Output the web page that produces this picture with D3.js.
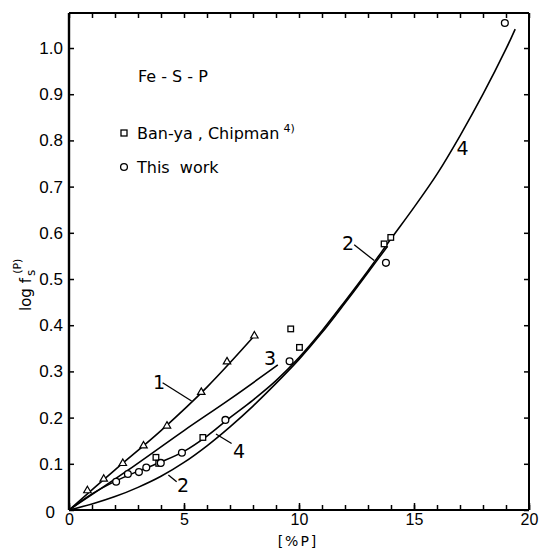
<!DOCTYPE html>
<html>
<head>
<meta charset="utf-8">
<script src="https://cdn.jsdelivr.net/npm/d3@7"></script>
<style>
  body { margin: 0; background: #fff; }
  svg { display: block; font-family: "DejaVu Sans", sans-serif; }
</style>
</head>
<body>
<div id="chart"></div>
<script>
// tick values
var xTicks = [0, 5, 10, 15, 20];
var yTicks = [0, 0.1, 0.2, 0.3, 0.4, 0.5, 0.6, 0.7, 0.8, 0.9, 1.0];

// measured points [%P, log f]
var triangles = [[0.8, 0.042], [1.51, 0.067], [2.34, 0.101], [3.24, 0.139], [4.26, 0.182],
  [5.75, 0.255], [6.87, 0.321], [8.06, 0.377]];
var banyaChipman = [[3.78, 0.114], [3.9, 0.101], [5.82, 0.157], [9.64, 0.392], [10.02, 0.352],
  [13.7, 0.576], [13.99, 0.59]];
var thisWork = [[2.05, 0.061], [2.56, 0.078], [3.04, 0.082], [3.36, 0.092], [3.99, 0.102],
  [4.91, 0.124], [6.8, 0.195], [9.59, 0.322], [13.78, 0.535], [18.95, 1.054]];

// drawn curves 1-4
var curve1 = [[0, 0], [2, 0.087], [4, 0.172], [6, 0.266], [8.06, 0.377]];
var curve2 = [[0, 0], [1, 0.013], [2, 0.029], [3, 0.049], [4, 0.073], [5, 0.103], [6, 0.139],
  [7, 0.18], [8, 0.225], [9, 0.274], [10, 0.326], [11, 0.384], [12, 0.448], [13, 0.514], [13.85, 0.571]];
var curve3 = [[0, 0], [2.5, 0.084], [5, 0.172], [7, 0.24], [9.08, 0.314]];
var curve4 = [[0, 0], [1, 0.035], [2, 0.062], [3, 0.084], [4, 0.104], [5, 0.127], [6, 0.16],
  [7, 0.2], [8, 0.238], [9, 0.28], [10, 0.33], [11, 0.388], [12, 0.452], [13, 0.518], [14, 0.587],
  [15, 0.655], [16, 0.727], [17, 0.81], [18, 0.9], [19, 0.998], [19.4, 1.041]];

// curve labels with leader lines (data units)
var curveLabels = [
  { text: "1", at: [3.91, 0.277], from: [4.07, 0.2755], to: [5.33, 0.236] },
  { text: "3", at: [8.74, 0.329] },
  { text: "4", at: [7.39, 0.128], from: [6.39, 0.1645], to: [7.07, 0.144] },
  { text: "2", at: [4.96, 0.054], from: [4.32, 0.0758], to: [4.68, 0.061] },
  { text: "2", at: [12.13, 0.578], from: [12.4, 0.574], to: [13.27, 0.54] },
  { text: "4", at: [17.11, 0.783] }
];

var width = 544, height = 550;

var x = d3.scaleLinear().domain([0, 20]).range([69, 529]);
var y = d3.scaleLinear().domain([0, 1.0758]).range([510, 13]);

var svg = d3.select("#chart")
  .append("svg")
  .attr("width", width)
  .attr("height", height);

// bottom axis: minor ticks every 1, labels every 5
svg.append("g")
  .attr("transform", "translate(0," + y(0) + ")")
  .call(d3.axisBottom(x).tickValues(d3.range(0, 21)).tickSize(-5).tickFormat(""))
  .call(function(g) { g.select(".domain").remove(); });

svg.append("g")
  .attr("class", "x axis")
  .attr("transform", "translate(0," + y(0) + ")")
  .call(d3.axisBottom(x).tickValues(xTicks).tickSize(-7).tickPadding(4).tickFormat(d3.format("d")))
  .call(function(g) {
    g.select(".domain").attr("d", "M" + x(0) + ",0H" + x(20)).attr("stroke-width", 2.2);
    g.selectAll("text").attr("font-size", 16).attr("fill", "#000");
  });

// top axis
svg.append("g")
  .attr("transform", "translate(0," + y.range()[1] + ")")
  .call(d3.axisTop(x).tickValues(d3.range(0, 21)).tickSize(-5).tickFormat(""))
  .call(function(g) {
    g.select(".domain").attr("d", "M" + x(0) + ",0H" + x(20)).attr("stroke-width", 2);
  });

// left axis
svg.append("g")
  .attr("class", "y axis")
  .attr("transform", "translate(" + x(0) + ",0)")
  .call(d3.axisLeft(y).tickValues(yTicks).tickSize(-5).tickPadding(6)
    .tickFormat(function(d) { return d === 0 ? "0" : d3.format(".1f")(d); }))
  .call(function(g) {
    g.select(".domain").attr("d", "M0," + y(0) + "V" + y.range()[1]).attr("stroke-width", 2.4);
    g.selectAll("text").attr("font-size", 17).attr("fill", "#000");
    g.selectAll(".tick").filter(function(d) { return d === 0; })
      .select("text").attr("dx", -8).attr("dy", "0.45em");
  });

// right axis
svg.append("g")
  .attr("transform", "translate(" + x(20) + ",0)")
  .call(d3.axisRight(y).tickValues(yTicks).tickSize(-5).tickFormat(""))
  .call(function(g) {
    g.select(".domain").attr("d", "M0," + y(0) + "V" + y.range()[1]).attr("stroke-width", 2);
  });

svg.selectAll(".tick line").attr("stroke", "#000").attr("stroke-width", 1.5);

// curves
var line = d3.line()
  .x(function(d) { return x(d[0]); })
  .y(function(d) { return y(d[1]); })
  .curve(d3.curveCatmullRom);

[curve1, curve2, curve3, curve4].forEach(function(c) {
  svg.append("path")
    .datum(c)
    .attr("d", line)
    .attr("fill", "none")
    .attr("stroke", "#000")
    .attr("stroke-width", 1.6);
});

// markers
svg.selectAll(".tri")
  .data(triangles)
  .enter()
  .append("path")
  .attr("d", d3.symbol(d3.symbolTriangle, 24))
  .attr("transform", function(d) { return "translate(" + x(d[0]) + "," + y(d[1]) + ")"; })
  .attr("fill", "#fff")
  .attr("stroke", "#000")
  .attr("stroke-width", 1.2);

svg.selectAll(".sq")
  .data(banyaChipman)
  .enter()
  .append("rect")
  .attr("x", function(d) { return x(d[0]) - 2.8; })
  .attr("y", function(d) { return y(d[1]) - 2.8; })
  .attr("width", 5.6)
  .attr("height", 5.6)
  .attr("fill", "#fff")
  .attr("stroke", "#000")
  .attr("stroke-width", 1.3);

svg.selectAll(".circ")
  .data(thisWork)
  .enter()
  .append("circle")
  .attr("cx", function(d) { return x(d[0]); })
  .attr("cy", function(d) { return y(d[1]); })
  .attr("r", 3.4)
  .attr("fill", "#fff")
  .attr("stroke", "#000")
  .attr("stroke-width", 1.3);

// curve labels
curveLabels.forEach(function(l) {
  if (l.from) {
    svg.append("line")
      .attr("x1", x(l.from[0])).attr("y1", y(l.from[1]))
      .attr("x2", x(l.to[0])).attr("y2", y(l.to[1]))
      .attr("stroke", "#000")
      .attr("stroke-width", 1.3);
  }
  svg.append("text")
    .attr("x", x(l.at[0]))
    .attr("y", y(l.at[1]))
    .attr("dy", "0.36em")
    .attr("text-anchor", "middle")
    .attr("font-size", 19)
    .text(l.text);
});

// legend
svg.append("text")
  .attr("x", 138).attr("y", 82)
  .attr("font-size", 16)
  .text("Fe - S - P");

svg.append("rect")
  .attr("x", 121).attr("y", 130).attr("width", 6).attr("height", 6)
  .attr("fill", "#fff").attr("stroke", "#000").attr("stroke-width", 1.3);

var t1 = svg.append("text")
  .attr("x", 137).attr("y", 139)
  .attr("font-size", 16);
t1.append("tspan").text("Ban-ya , Chipman");
t1.append("tspan").attr("dx", 4).attr("dy", -7).attr("font-size", 11).text("4)");

svg.append("circle")
  .attr("cx", 124).attr("cy", 167).attr("r", 3.4)
  .attr("fill", "#fff").attr("stroke", "#000").attr("stroke-width", 1.3);

svg.append("text")
  .attr("x", 137).attr("y", 173)
  .attr("font-size", 16)
  .style("white-space", "pre")
  .text("This  work");

// axis titles
svg.append("text")
  .attr("x", 298).attr("y", 546)
  .attr("text-anchor", "middle")
  .attr("font-size", 14)
  .attr("letter-spacing", 2)
  .text("[%P]");

var yt = svg.append("text")
  .attr("transform", "translate(31,311) rotate(-90)")
  .attr("font-size", 15);
yt.append("tspan").text("log f");
yt.append("tspan").attr("dx", 2).attr("dy", 4).attr("font-size", 12).text("s");
yt.append("tspan").attr("dx", -4).attr("dy", -14).attr("font-size", 11).text("(P)");
</script>
</body>
</html>
